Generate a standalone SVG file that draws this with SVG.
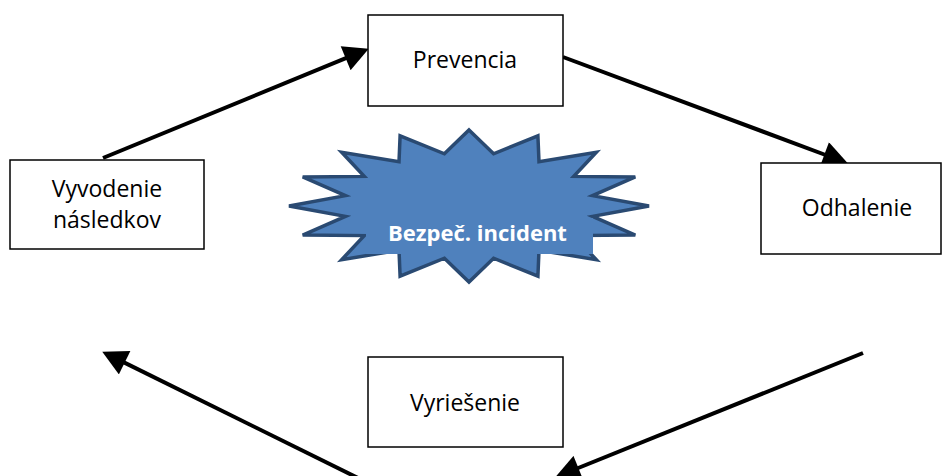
<svg xmlns="http://www.w3.org/2000/svg" width="942" height="476" viewBox="0 0 942 476">
  <style>
    .box { fill: #ffffff; stroke: #000000; stroke-width: 1.5; }
    .lbl { font-family: "Open Sans", "Liberation Sans", sans-serif; font-size: 23px; fill: #000000; text-anchor: middle; }
    .conn { stroke: #000000; stroke-width: 4; fill: none; marker-end: url(#ah); }
    .star { fill: #4F81BD; stroke: #2A4A72; stroke-width: 3.5; stroke-linejoin: miter; }
    .stxt { font-family: "Open Sans", "Liberation Sans", sans-serif; font-size: 22px; font-weight: bold; fill: #ffffff; text-anchor: middle; }
  </style>
  <defs>
    <marker id="ah" markerUnits="userSpaceOnUse" markerWidth="26" markerHeight="26" viewBox="0 0 24 25" refX="4" refY="12.5" orient="auto">
      <path d="M0,0 L24,12.5 L0,25 Z" fill="#000000"/>
    </marker>
  </defs>
  <rect width="942" height="476" fill="#ffffff"/>

  <g id="incident">
    <path class="star" d="M469,130 L493.6,153.8 L537.9,135.8 L539,161.8 L596.3,152.3 L573.8,176.4 L635.3,176.9 L592.6,195.6 L649,206 L592.6,216.4 L635.3,235.1 L573.8,235.6 L596.3,259.7 L539,250.2 L537.9,276.2 L493.6,258.2 L469,282 L444.4,258.2 L400.1,276.2 L399,250.2 L341.7,259.7 L364.2,235.6 L302.7,235.1 L345.4,216.4 L289,206 L345.4,195.6 L302.7,176.9 L364.2,176.4 L341.7,152.3 L399,161.8 L400.1,135.8 L444.4,153.8 Z"/>
    <rect x="366" y="218" width="227" height="36" fill="#4F81BD"/>
    <text class="stxt" x="477.5" y="241">Bezpeč. incident</text>
  </g>

  <g id="connectors">
    <line class="conn" x1="103" y1="158" x2="349.5" y2="56.6"/>
    <line class="conn" x1="563" y1="57" x2="828.3" y2="156"/>
    <line class="conn" x1="863" y1="353" x2="574.5" y2="469.5"/>
    <line class="conn" x1="358" y1="478" x2="120.9" y2="360.9"/>
  </g>

  <g id="prevencia">
    <rect class="box" x="368" y="15" width="195" height="91"/>
    <text class="lbl" x="465" y="68">Prevencia</text>
  </g>

  <g id="odhalenie">
    <rect class="box" x="761" y="163" width="180" height="91"/>
    <text class="lbl" x="857" y="216">Odhalenie</text>
  </g>

  <g id="vyriesenie">
    <rect class="box" x="368" y="357" width="195" height="90"/>
    <text class="lbl" x="465" y="411">Vyriešenie</text>
  </g>

  <g id="vyvodenie">
    <rect class="box" x="10" y="160" width="194" height="89"/>
    <text class="lbl" x="107" y="197">Vyvodenie</text>
    <text class="lbl" x="107" y="228">následkov</text>
  </g>
</svg>
